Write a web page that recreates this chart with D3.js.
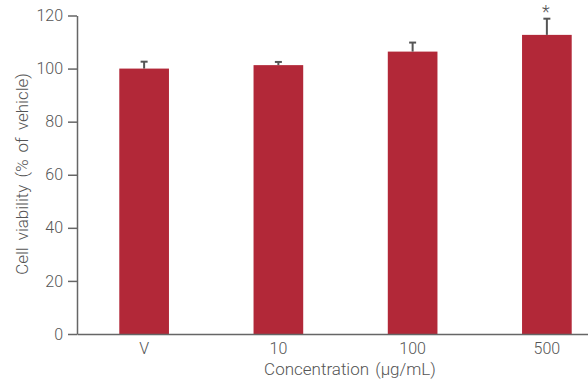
<!DOCTYPE html>
<html>
<head>
<meta charset="utf-8">
<script src="https://cdn.jsdelivr.net/npm/d3@7"></script>
<style>
  body { margin: 0; background: white; }
  svg text { font-family: Roboto, 'Liberation Sans', Arial, sans-serif; font-weight: 300; fill: #555; }
</style>
</head>
<body>
<svg width="588" height="382"></svg>
<script>
var concentrations = ['V', '10', '100', '500']
var viability = [100, 101.3, 106.4, 112.7]
var errors = [2.6, 1.2, 3.4, 6.1]
var significant = ['500']
var yTicks = [0, 20, 40, 60, 80, 100, 120]

var data = concentrations.map(function(c, i) {
  return {name: c, value: viability[i], err: errors[i]}
})

var svg = d3.select('svg')

var x = d3.scaleBand()
  .domain(concentrations)
  .range([77, 614])
  .paddingInner(0.63)
  .paddingOuter(0.315)

var y = d3.scaleLinear()
  .domain([0, 120])
  .range([334, 15.5])

// bars
svg.append('g')
  .selectAll('rect')
  .data(data)
  .enter()
  .append('rect')
  .attr('x', function(d) { return x(d.name) })
  .attr('y', function(d) { return y(d.value) })
  .attr('width', x.bandwidth())
  .attr('height', function(d) { return y(0) - y(d.value) })
  .attr('fill', '#b22838')

// error bars, upper side only
var eb = svg.append('g')
  .attr('stroke', '#555')
  .attr('stroke-width', 2)

eb.selectAll('line.stem')
  .data(data)
  .enter()
  .append('line')
  .attr('class', 'stem')
  .attr('x1', function(d) { return x(d.name) + x.bandwidth() / 2 })
  .attr('x2', function(d) { return x(d.name) + x.bandwidth() / 2 })
  .attr('y1', function(d) { return y(d.value) })
  .attr('y2', function(d) { return y(d.value + d.err) })

eb.selectAll('line.cap')
  .data(data)
  .enter()
  .append('line')
  .attr('class', 'cap')
  .attr('x1', function(d) { return x(d.name) + x.bandwidth() / 2 - 3.5 })
  .attr('x2', function(d) { return x(d.name) + x.bandwidth() / 2 + 3.5 })
  .attr('y1', function(d) { return y(d.value + d.err) })
  .attr('y2', function(d) { return y(d.value + d.err) })

svg.append('g')
  .selectAll('text')
  .data(data.filter(function(d) { return significant.includes(d.name) }))
  .enter()
  .append('text')
  .attr('x', function(d) { return x(d.name) + x.bandwidth() / 2 - 1 })
  .attr('y', function(d) { return y(d.value + d.err) - 1 })
  .attr('text-anchor', 'middle')
  .style('font-size', '18px')
  .text('*')

// y axis
var yAxis = svg.append('g')
  .attr('transform', 'translate(77,0)')
  .call(d3.axisLeft(y).tickValues(yTicks).tickSize(9).tickPadding(5).tickSizeOuter(0))

yAxis.selectAll('text').style('font-size', '16px')

// x axis
var xAxis = svg.append('g')
  .attr('transform', 'translate(0,334)')
  .call(d3.axisBottom(x).tickSize(0).tickPadding(9))

xAxis.selectAll('text').style('font-size', '16px')

svg.selectAll('.domain, .tick line')
  .attr('stroke', '#666')
  .attr('stroke-width', 1.5)

svg.append('text')
  .attr('x', 350)
  .attr('y', 375)
  .attr('text-anchor', 'middle')
  .style('font-size', '17px')
  .style('word-spacing', '2px')
  .text('Concentration (\u03bcg/mL)')

svg.append('text')
  .attr('transform', 'translate(28,174) rotate(-90)')
  .attr('text-anchor', 'middle')
  .style('font-size', '17px')
  .style('word-spacing', '3px')
  .text('Cell viability (% of vehicle)')
</script>
</body>
</html>
